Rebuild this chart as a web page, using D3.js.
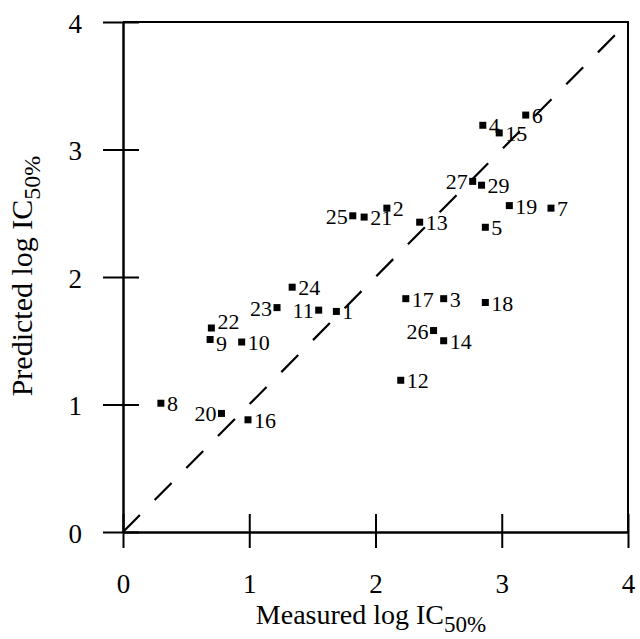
<!DOCTYPE html>
<html>
<head>
<meta charset="utf-8">
<script src="https://cdn.jsdelivr.net/npm/d3@7"></script>
<style>
  body { margin: 0; background: #fff; }
  svg { display: block; font-family: "Liberation Serif", "Times New Roman", serif; }
</style>
</head>
<body>
<div id="chart"></div>
<script>
// compound numbers and their measured / predicted log IC50% values
var ids       = [1, 2, 3, 4, 5, 6, 7, 8, 9, 10, 11, 12, 13, 14, 15, 16, 17, 18, 19, 20, 21, 22, 23, 24, 25, 26, 27, 29];
var measured  = [1.69, 2.09, 2.54, 2.85, 2.87, 3.19, 3.39, 0.30, 0.69, 0.94, 1.55, 2.20, 2.35, 2.54, 2.98, 0.99, 2.24, 2.87, 3.06, 0.78, 1.91, 0.70, 1.22, 1.34, 1.82, 2.46, 2.77, 2.84];
var predicted = [1.73, 2.54, 1.83, 3.19, 2.39, 3.27, 2.54, 1.01, 1.51, 1.49, 1.74, 1.19, 2.43, 1.50, 3.13, 0.88, 1.83, 1.80, 2.56, 0.93, 2.47, 1.60, 1.76, 1.92, 2.48, 1.58, 2.75, 2.72];
var xTicks = [0, 1, 2, 3, 4];
var yTicks = [0, 1, 2, 3, 4];
// labels that sit on the left of their marker
var leftLabels = [11, 20, 23, 25, 26, 27];

var width = 640, height = 639,
    margin = { top: 22, right: 10, bottom: 107, left: 123 };

var data = ids.map(function (id, i) {
    return { id: id, x: measured[i], y: predicted[i] };
});

var x = d3.scaleLinear().domain([0, 4]).range([margin.left, width - margin.right - 2]);
var y = d3.scaleLinear().domain([0, 4]).range([height - margin.bottom, margin.top]);

var svg = d3.select("#chart").append("svg")
    .attr("width", width)
    .attr("height", height);

// frame (top and right)
svg.append("path")
    .attr("d", "M" + x(0) + "," + y(4) + "H" + x(4) + "V" + y(0))
    .attr("fill", "none")
    .attr("stroke", "#000")
    .attr("stroke-width", 2);

// diagonal y = x
svg.append("line")
    .attr("x1", x(0)).attr("y1", y(0))
    .attr("x2", x(3.97)).attr("y2", y(3.97))
    .attr("stroke", "#000")
    .attr("stroke-width", 2.2)
    .attr("stroke-dasharray", "24,21");

// x axis with crossing ticks
var gx = svg.append("g")
    .attr("transform", "translate(0," + y(0) + ")")
    .call(d3.axisBottom(x).tickValues(xTicks).tickSize(0).tickFormat(""));
gx.select(".domain").attr("stroke-width", 2.5);
gx.selectAll(".tick line").attr("y1", -18).attr("y2", 16).attr("stroke-width", 2);
gx.selectAll(".tick").append("text")
    .attr("y", 61)
    .attr("fill", "#000")
    .attr("text-anchor", "middle")
    .style("font-size", "27px")
    .text(function (d) { return d; });

// y axis with crossing ticks
var gy = svg.append("g")
    .attr("transform", "translate(" + x(0) + ",0)")
    .call(d3.axisLeft(y).tickValues(yTicks).tickSize(0).tickFormat(""));
gy.select(".domain").attr("stroke-width", 2.5);
gy.selectAll(".tick line").attr("x1", -20).attr("x2", 16).attr("stroke-width", 2);
gy.selectAll(".tick").append("text")
    .attr("x", -41)
    .attr("y", 10)
    .attr("fill", "#000")
    .attr("text-anchor", "end")
    .style("font-size", "27px")
    .text(function (d) { return d; });

svg.selectAll(".domain, .tick line").attr("stroke", "#000");
svg.selectAll(".tick text").style("font-family", "Liberation Serif, serif");

// points
svg.selectAll("rect.pt")
    .data(data)
    .enter().append("rect")
    .attr("class", "pt")
    .attr("x", function (d) { return x(d.x) - 3.5; })
    .attr("y", function (d) { return y(d.y) - 3.5; })
    .attr("width", 7)
    .attr("height", 7)
    .attr("fill", "#000");

// 22 and 9 sit almost on top of each other, nudge their labels apart
function labelDy(d) {
    if (d.id === 22) return 1;
    if (d.id === 9) return 12;
    return 8;
}

svg.selectAll("text.lbl")
    .data(data)
    .enter().append("text")
    .attr("class", "lbl")
    .attr("x", function (d) {
        return leftLabels.indexOf(d.id) >= 0 ? x(d.x) - 5 : x(d.x) + 6;
    })
    .attr("y", function (d) { return y(d.y) + labelDy(d); })
    .attr("text-anchor", function (d) {
        return leftLabels.indexOf(d.id) >= 0 ? "end" : "start";
    })
    .style("font-size", "22px")
    .attr("fill", "#000")
    .text(function (d) { return d.id; });

// axis titles
var xt = svg.append("text")
    .attr("x", 371)
    .attr("y", 624)
    .attr("text-anchor", "middle")
    .style("font-size", "28px");
xt.append("tspan").text("Measured log IC");
xt.append("tspan").attr("dy", 8).style("font-size", "23px").text("50%");

var yt = svg.append("text")
    .attr("transform", "translate(32,276) rotate(-90)")
    .attr("text-anchor", "middle")
    .style("font-size", "30px");
yt.append("tspan").text("Predicted log IC");
yt.append("tspan").attr("dy", 8).style("font-size", "24px").text("50%");
</script>
</body>
</html>
